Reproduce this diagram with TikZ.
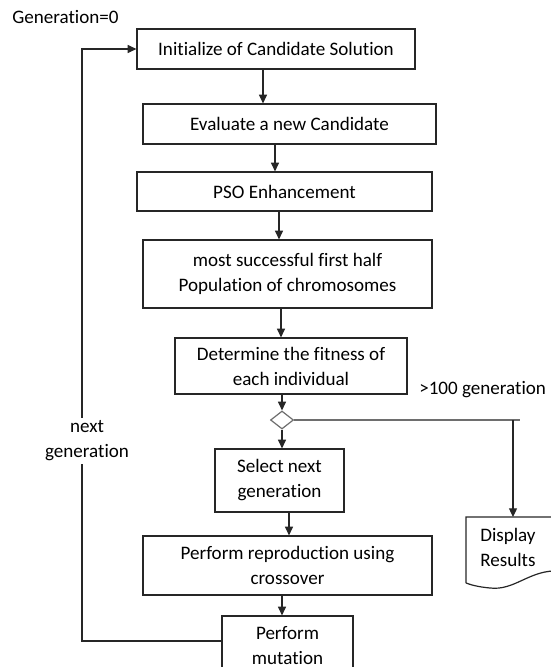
\documentclass[tikz,border=0pt]{standalone}
\usepackage{fontspec}
\setmainfont{Carlito}[Ligatures=NoCommon]
\usepackage{tikz}
\usetikzlibrary{arrows.meta,shapes.geometric}
\definecolor{FlowLine}{HTML}{262626}
\definecolor{DiaLine}{HTML}{6E6E6E}

\begin{document}
\begin{tikzpicture}[x=0.75pt,y=-0.75pt,
  flowbox/.style={draw=FlowLine,line width=0.9pt,align=center,inner sep=0pt,font=\fontsize{14.3}{18.75}\selectfont},
  flowline/.style={draw=FlowLine,line width=0.9pt},
  flowarrow/.style={flowline,-{Triangle[length=6.5pt,width=6pt]}},
  plainlabel/.style={font=\fontsize{14.3}{18.75}\selectfont,inner sep=0pt}]
\path[use as bounding box] (0,0) rectangle (550,667);
\node[plainlabel,anchor=west] (genzero) at (12,17) {Generation=0};
\node[flowbox,minimum width=208.5pt,minimum height=30pt] (init) at (276,49) {Initialize of Candidate Solution};
\node[flowbox,minimum width=219.75pt,minimum height=30pt] (eval) at (289.5,124) {Evaluate a new Candidate};
\node[flowbox,minimum width=221.25pt,minimum height=29.25pt] (pso) at (284.5,191.5) {PSO Enhancement};
\node[flowbox,minimum width=216.75pt,minimum height=51pt] (best) at (287.5,274) {most successful first half\\Population of chromosomes};
\node[flowbox,minimum width=174pt,minimum height=42pt] (fit) at (291,366) {Determine the fitness of\\each individual};
\node[diamond,draw=DiaLine,line width=0.9pt,inner sep=0pt,minimum width=17.25pt,minimum height=13.5pt] (dia) at (282,420) {};
\node[plainlabel,anchor=west] (stop) at (419,390) {>100 generation};
\node[flowbox,minimum width=96.75pt,minimum height=47.25pt] (sel) at (279.5,480.5) {Select next\\generation};
\node[flowbox,minimum width=216.75pt,minimum height=44.25pt] (repro) at (287.5,565.5) {Perform reproduction using\\crossover};
\node[flowbox,minimum width=98.25pt,minimum height=45pt] (mut) at (287.5,646) {Perform\\mutation};
% main column
\draw[flowarrow] (init.south -| 263,0) -- (eval.north -| 263,0);
\draw[flowarrow] (eval.south -| 275,0) -- (pso.north -| 275,0);
\draw[flowarrow] (pso.south -| 279,0) -- (best.north -| 279,0);
\draw[flowarrow] (best.south -| 281,0) -- (fit.north -| 281,0);
\draw[flowarrow] (fit.south -| dia) -- (dia.north);
\draw[flowarrow] (dia.south) -- (sel.north -| dia);
\draw[flowarrow] (sel.south -| 289,0) -- (repro.north -| 289,0);
\draw[flowarrow] (repro.south -| 282,0) -- (mut.north -| 282,0);
% display results
\coordinate (turn) at (513,420);
\coordinate (disptop) at (513,517);
\draw[DiaLine,line width=0.9pt] (dia.east) -- (520,420);
\draw[flowarrow] (turn) -- (disptop);
\draw[flowline] (466,583) -- (466,517) -- (560,517) -- (560,571)
  .. controls (530,569) and (515,591) .. (490,588)
  .. controls (479,587) and (471,585) .. (466,583);
\node[plainlabel,anchor=west,align=left] (disp) at (480,547.5) {Display\\Results};
% loop back
\coordinate (loopbot) at (82,641);
\draw[flowarrow] (mut.west |- loopbot) -- (loopbot) |- (init.west);
\node[plainlabel,fill=white,align=center,inner sep=2pt] (nextgen) at (87,441) {next\\generation};
\end{tikzpicture}
\end{document}
